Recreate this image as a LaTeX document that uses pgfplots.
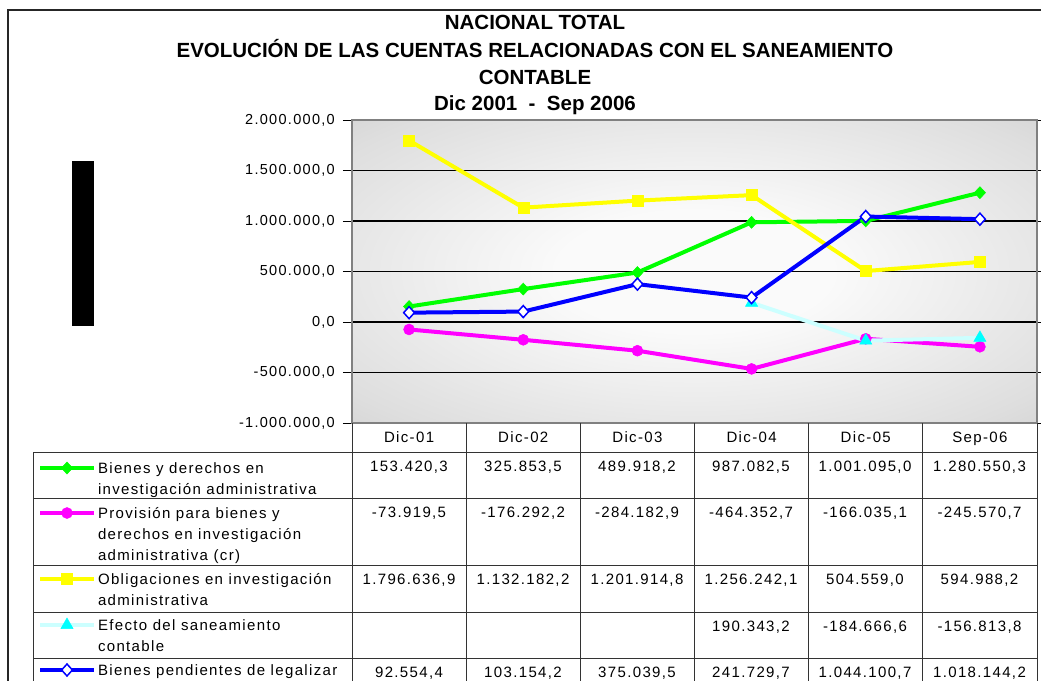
\documentclass[border=0pt]{standalone}
\usepackage{pgfplots}
\pgfplotsset{compat=1.18}
\usepackage{fontspec}
\setmainfont{Liberation Sans}
\newfontfamily\tabfont[LetterSpace=9]{Liberation Sans}
\newfontfamily\tickfont[LetterSpace=9]{Liberation Sans}
\definecolor{cGreen}{RGB}{0,255,0}
\definecolor{cMag}{RGB}{255,0,255}
\definecolor{cYel}{RGB}{255,255,0}
\definecolor{cCyanL}{RGB}{204,255,255}
\definecolor{cCyan}{RGB}{0,255,255}
\definecolor{cBlue}{RGB}{0,0,255}
\definecolor{bord}{RGB}{128,128,128}
\definecolor{bgin}{RGB}{250,250,250}
\definecolor{bgmid}{RGB}{222,222,222}
\definecolor{bgout}{RGB}{190,190,190}
\pgfdeclareradialshading{plotbg}{\pgfpoint{0bp}{0bp}}{%
 color(0bp)=(bgin); color(10bp)=(bgin); color(32bp)=(bgmid); color(50bp)=(bgout); color(75bp)=(bgout)}
\newcommand{\tf}{\tabfont\fontsize{15}{21}\selectfont}
\newcommand{\lent}[1]{\parbox[t]{252pt}{\tf\raggedright\rule{0pt}{19pt}#1}}
\pgfplotsset{limg/.style={legend image code/.code={%
  \draw[##1, mark repeat=2, mark phase=2] plot coordinates {(0pt,5pt)(27pt,5pt)(54pt,5pt)};
  \path (0pt,-#1pt) (0pt,19pt);}}}
\begin{document}
\begin{tikzpicture}[x=1pt,y=1pt]
\useasboundingbox (0,0) rectangle (1041,-680);
\fill[white] (0,0) rectangle (1041,-680);
% frame
\draw[line width=1.3pt, black!85] (8,-700) -- (8,-10) -- (1060,-10);
% title
\begin{scope}[every node/.style={font=\bfseries\fontsize{20.5}{24}\selectfont, anchor=base, inner sep=0pt}]
\node at (535,-29) {NACIONAL TOTAL};
\node at (535,-57) {EVOLUCIÓN DE LAS CUENTAS RELACIONADAS CON EL SANEAMIENTO};
\node at (535,-84) {CONTABLE};
\node at (535,-110) {Dic 2001\ \ -\ \ Sep 2006};
\end{scope}
% black bar
\fill[black] (72,-161) rectangle (94,-326);
\begin{axis}[
  at={(352pt,-423pt)}, anchor=south west,
  scale only axis, width=685pt, height=303pt,
  xmin=-0.5, xmax=5.5, ymin=-1000000, ymax=2000000,
  axis background/.style={shade, shading=plotbg},
  axis line style={draw=bord, line width=1.6pt},
  xtick={0,...,5},
  xticklabels={Dic-01,Dic-02,Dic-03,Dic-04,Dic-05,Sep-06},
  x tick style={draw=none},
  xticklabel style={font=\tf, anchor=base, yshift=-10pt},
  ytick={-1000000,-500000,0,500000,1000000,1500000,2000000},
  yticklabels={{-1.000.000,0},{-500.000,0},{0,0},{500.000,0},{1.000.000,0},{1.500.000,0},{2.000.000,0}},
  scaled y ticks=false,
  y tick style={draw=black, line width=1pt},
  tick align=outside, major tick length=9pt,
  yticklabel style={font=\tickfont\fontsize{14.5}{16}\selectfont, anchor=east, inner sep=0pt, xshift=-8pt},
  ymajorgrids, grid style={black, line width=1.1pt},
  legend cell align=left,
  legend style={at={(-0.45839,-0.09571)}, anchor=north west, draw=none, fill=none,
    inner sep=0pt, outer sep=0pt, row sep=0pt, column sep=0pt,
    cells={anchor=base west, inner sep=0pt, outer sep=0pt}},
  every axis plot/.append style={line width=4pt},
]
\addplot[limg=22, cGreen, mark=diamond*, mark size=6pt, mark options={solid, fill=cGreen, draw=cGreen, line width=0.5pt, xscale=1.25}]
 coordinates {(0,153420.3)(1,325853.5)(2,489918.2)(3,987082.5)(4,1001095.0)(5,1280550.3)};
\addlegendentry{\lent{Bienes y derechos en\\investigación administrativa}}
\addplot[limg=43, cMag, mark=*, mark size=5.5pt, mark options={solid, fill=cMag, draw=cMag, line width=0.5pt}]
 coordinates {(0,-73919.5)(1,-176292.2)(2,-284182.9)(3,-464352.7)(4,-166035.1)(5,-245570.7)};
\addlegendentry{\lent{Provisión para bienes y\\derechos en investigación\\administrativa (cr)}}
\addplot[limg=23, cYel, mark=square*, mark size=5.5pt, mark options={solid, fill=cYel, draw=cYel, line width=0.5pt}]
 coordinates {(0,1796636.9)(1,1132182.2)(2,1201914.8)(3,1256242.1)(4,504559.0)(5,594988.2)};
\addlegendentry{\lent{Obligaciones en investigación\\administrativa}}
\addplot[limg=22, cCyanL, mark=triangle*, mark size=7pt, mark options={solid, fill=cCyan, draw=cCyan, line width=0.5pt}]
 coordinates {(3,190343.2)(4,-184666.6)(5,-156813.8)};
\addlegendentry{\lent{Efecto del saneamiento\\contable}}
\addplot[limg=22, cBlue, mark=diamond*, mark size=6pt, mark options={solid, fill=white, draw=cBlue, line width=1.5pt, xscale=1.2}]
 coordinates {(0,92554.4)(1,103154.2)(2,375039.5)(3,241729.7)(4,1044100.7)(5,1018144.2)};
\addlegendentry{\lent{Bienes pendientes de legalizar}}
\end{axis}
% table lines
\begin{scope}[line width=1pt, black!80]
\foreach \yy in {452,498.5,565.5,612.5,658.5} {\draw (33,-\yy) -- (1037,-\yy);}
\draw (33,-452) -- (33,-700);
\foreach \xx in {352,466,580,694,808,922,1037} {\draw (\xx,-423) -- (\xx,-700);}
\end{scope}
% table values
\begin{scope}[every node/.style={font=\tf, anchor=base, inner sep=0pt}]
\node at (409,-471) {153.420,3};
\node at (523,-471) {325.853,5};
\node at (637,-471) {489.918,2};
\node at (751,-471) {987.082,5};
\node at (865,-471) {1.001.095,0};
\node at (979.5,-471) {1.280.550,3};
\node at (409,-517.5) {-73.919,5};
\node at (523,-517.5) {-176.292,2};
\node at (637,-517.5) {-284.182,9};
\node at (751,-517.5) {-464.352,7};
\node at (865,-517.5) {-166.035,1};
\node at (979.5,-517.5) {-245.570,7};
\node at (409,-584.5) {1.796.636,9};
\node at (523,-584.5) {1.132.182,2};
\node at (637,-584.5) {1.201.914,8};
\node at (751,-584.5) {1.256.242,1};
\node at (865,-584.5) {504.559,0};
\node at (979.5,-584.5) {594.988,2};
\node at (751,-631.5) {190.343,2};
\node at (865,-631.5) {-184.666,6};
\node at (979.5,-631.5) {-156.813,8};
\node at (409,-677.5) {92.554,4};
\node at (523,-677.5) {103.154,2};
\node at (637,-677.5) {375.039,5};
\node at (751,-677.5) {241.729,7};
\node at (865,-677.5) {1.044.100,7};
\node at (979.5,-677.5) {1.018.144,2};
\end{scope}
\end{tikzpicture}
\end{document}
